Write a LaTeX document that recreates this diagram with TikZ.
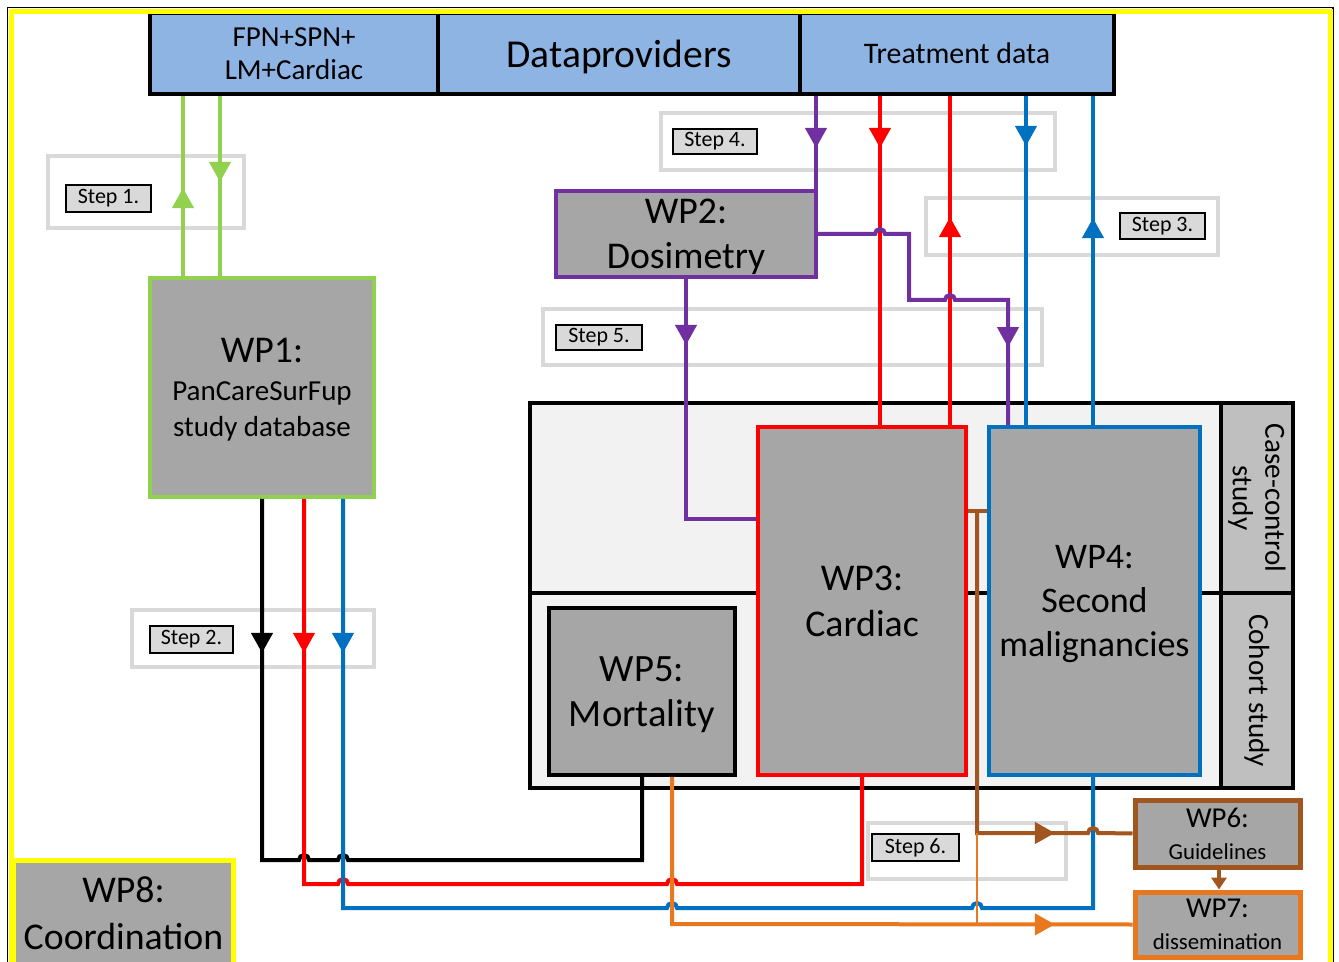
\documentclass[tikz,border=0pt]{standalone}
\usepackage{fontspec}
\setmainfont{Carlito}
\usetikzlibrary{arrows.meta,decorations.markings,calc}
\definecolor{topblue}{HTML}{8EB4E3}
\definecolor{wpgray}{HTML}{A6A6A6}
\definecolor{gr}{HTML}{92D050}
\definecolor{purp}{HTML}{7030A0}
\definecolor{rd}{HTML}{FF0000}
\definecolor{bl}{HTML}{0070C0}
\definecolor{brn}{HTML}{A0561E}
\definecolor{orng}{HTML}{E8771E}
\definecolor{stepgray}{HTML}{D9D9D9}
\definecolor{contgray}{HTML}{F2F2F2}
\definecolor{colgray}{HTML}{BFBFBF}
\definecolor{yel}{HTML}{FFFF00}
\newcommand\fsz[2]{\fontsize{#1}{#2}\selectfont}
\newcommand\rectnode[7]{\node[#6, minimum width={(#4-#2)*0.02cm}, minimum height={(#5-#3)*0.02cm}] (#1) at ({(#2+#4)/2},{(#3+#5)/2}) {#7};}
\tikzset{
  topbox/.style={draw=black, fill=topblue, line width=0.08cm, inner sep=0pt, align=center, text depth=0pt},
  wpbox/.style={fill=wpgray, line width=0.08cm, inner sep=0pt, align=center, text depth=0pt},
  conn/.style={line width=0.08cm},
  midarrow/.style={postaction={decorate,decoration={markings,mark=at position #1 with {\arrow{Triangle[width=0.42cm,length=0.4cm]}}}}},
  stepframe/.style={draw=stepgray, line width=0.09cm, inner sep=0pt},
  steplabel/.style={draw=black, fill=stepgray, line width=0.6pt, inner sep=0pt, font=\fsz{12.5}{14}},
}
\begin{document}
\begin{tikzpicture}[x=0.02cm, y=-0.02cm]
\useasboundingbox (0,0) rectangle (1339,962);
\fill[white] (0,0) rectangle (1339,962);

% step frames
\rectnode{s1f}{48}{156}{244}{228}{stepframe}{}
\rectnode{s2f}{132}{610}{374}{667}{stepframe}{}
\rectnode{s3f}{926}{198}{1218}{255}{stepframe}{}
\rectnode{s4f}{661}{113}{1055}{170}{stepframe}{}
\rectnode{s5f}{543}{309}{1042}{365}{stepframe}{}
\rectnode{s6f}{868}{823}{1066}{879}{stepframe}{}

% step labels
\rectnode{s1}{66}{185}{151}{212}{steplabel}{Step 1.}
\rectnode{s2}{150}{626}{233}{653}{steplabel}{Step 2.}
\rectnode{s3}{1120}{213}{1205}{239}{steplabel}{Step 3.}
\rectnode{s4}{673}{129}{757}{154}{steplabel}{Step 4.}
\rectnode{s5}{556}{325}{642}{350}{steplabel}{Step 5.}
\rectnode{s6}{872}{834}{959}{861}{steplabel}{Step 6.}

% top boxes
\rectnode{top1}{150}{13}{438}{94}{topbox, font=\fsz{16.5}{19}}{FPN+SPN+\\LM+Cardiac}
\rectnode{data}{438}{13}{800}{94}{topbox, font=\fsz{22.5}{26}}{Dataproviders}
\rectnode{treat}{800}{13}{1114}{94}{topbox, font=\fsz{17}{20}}{Treatment data}

% container
\rectnode{cont}{530}{403}{1293}{788}{draw=black, fill=contgray, line width=0.07cm, inner sep=0pt}{}
\draw[black, line width=0.07cm] (cont.west |- 0,593) -- (cont.east |- 0,593);
\node[draw=black, fill=colgray, line width=0.07cm, inner sep=0pt, rotate=-90, align=center,
  minimum width={190*0.02cm}, minimum height={72*0.02cm}, font=\fsz{16.6}{18.5}] (cc) at (1257,498) {Case-control\\study};
\node[draw=black, fill=colgray, line width=0.07cm, inner sep=0pt, rotate=-90, align=center,
  minimum width={195*0.02cm}, minimum height={72*0.02cm}, font=\fsz{16.6}{18.5}] (coh) at (1257,690.5) {Cohort study};

% WP nodes
\rectnode{wp1}{150}{278}{374}{497}{wpbox, draw=gr, font=\fsz{16.5}{20.5}}{{\fsz{21.5}{25}WP1:}\\[1pt]PanCareSurFup\\study database}
\rectnode{wp2}{556}{191}{816}{277}{wpbox, draw=purp, font=\fsz{21.5}{25.5}}{WP2:\\Dosimetry}
\rectnode{wp3}{758}{427}{966}{775}{wpbox, draw=rd, font=\fsz{21.5}{26}}{WP3:\\Cardiac}
\rectnode{wp4}{989}{427}{1200}{775}{wpbox, draw=bl, font=\fsz{20.5}{25}}{WP4:\\Second\\malignancies}
\rectnode{wp5}{549}{608}{735}{775}{wpbox, draw=black, font=\fsz{22}{26}}{WP5:\\Mortality}
\rectnode{wp6}{1135}{800}{1300}{867}{wpbox, draw=brn, line width=0.1cm, font=\fsz{13}{18}}{{\fsz{16.4}{18}WP6:}\\Guidelines}
\rectnode{wp7}{1135}{892}{1300}{957}{wpbox, draw=orng, line width=0.1cm, font=\fsz{13}{18}}{{\fsz{16.4}{18}WP7:}\\dissemination}
\rectnode{wp8}{14}{860}{233}{966}{wpbox, draw=yel, line width=0.1cm, font=\fsz{21.5}{27}}{WP8:\\Coordination}

% connectors: step 1
\draw[conn, gr, midarrow=1.76cm] (wp1.north -| 183,0) -- (top1.south -| 183,0);
\draw[conn, gr, midarrow=1.72cm] (top1.south -| 220,0) -- (wp1.north -| 220,0);

% step 4 and 3
\draw[conn, purp, midarrow=1.04cm] (treat.south -| 816,0) -- (wp2.north -| 816,0);
\draw[conn, rd, midarrow=1.04cm] (treat.south -| 880,0) -- (wp3.north -| 880,0);
\draw[conn, rd, midarrow=4.16cm] (wp3.north -| 950,0) -- (treat.south -| 950,0);
\draw[conn, bl, midarrow=1.0cm] (treat.south -| 1026,0) -- (wp4.north -| 1026,0);
\draw[conn, bl, midarrow=4.14cm] (wp4.north -| 1093,0) -- (treat.south -| 1093,0);

% step 5
\draw[conn, purp, midarrow=6.29cm] (wp2.east) -- (875,234) arc[start angle=180, end angle=0, radius=0.1cm]
  -- (909,234) -- (909,300) -- (945,300) arc[start angle=180, end angle=0, radius=0.1cm]
  -- (1008,300) -- (wp4.north -| 1008,0);
\draw[conn, purp, midarrow=1.32cm] (wp2.south -| 686,0) -- (686,519) -- (wp3.west |- 0,519);

% step 2
\draw[conn, black, midarrow=3.08cm] (wp1.south -| 262,0) -- (262,860)
  -- (299,860) arc[start angle=180, end angle=0, radius=0.1cm]
  -- (338,860) arc[start angle=180, end angle=0, radius=0.1cm]
  -- (642,860) -- (wp5.south -| 642,0);
\draw[conn, rd, midarrow=3.08cm] (wp1.south -| 304,0) -- (304,884)
  -- (338,884) arc[start angle=180, end angle=0, radius=0.1cm]
  -- (667,884) arc[start angle=180, end angle=0, radius=0.1cm]
  -- (862,884) -- (wp3.south -| 862,0);
\draw[conn, bl, midarrow=3.08cm] (wp1.south -| 343,0) -- (343,908)
  -- (667,908) arc[start angle=180, end angle=0, radius=0.1cm]
  -- (972,908) arc[start angle=180, end angle=0, radius=0.1cm]
  -- (1093,908) -- (wp4.south -| 1093,0);

% step 6
\coordinate (bj) at (977,511);
\coordinate (oj) at (977,833);
\draw[conn, brn] (wp3.east |- bj) -- (wp4.west |- bj);
\draw[conn, brn, midarrow=8.0cm] (bj) -- (oj) -- (1088,833) arc[start angle=180, end angle=0, radius=0.1cm] -- (wp6.west);
\draw[line width=0.05cm, orng] (oj) -- (977,924);
\draw[conn, orng, midarrow=10.6cm] (wp5.south -| 672,0) -- (672,924) -- (wp7.west);
\draw[conn, brn, -{Triangle[width=0.3cm,length=0.24cm]}] (wp6.south -| 1219,0) -- (wp7.north -| 1219,0);

% outer frame
\draw[black, line width=0.6pt] (7.5,7.5) rectangle (1333,1000);
\draw[yel, line width=0.1cm] (11.5,12) rectangle (1330,1000);
\end{tikzpicture}
\end{document}
